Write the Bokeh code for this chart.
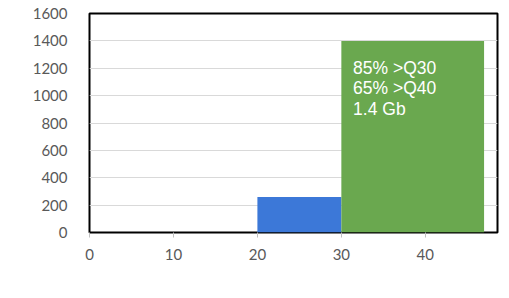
from bokeh.plotting import figure
from bokeh.embed import file_html
from bokeh.resources import INLINE
from bokeh.models import Range1d, FixedTicker
from bokeh.core.properties import value

# data
bin_left = [20, 30]
bin_right = [30, 47]
counts = [260, 1400]
colors = ["#3c78d8", "#6aa84f"]
annot_lines = ["85% >Q30", "65% >Q40", "1.4 Gb"]
annot_x = [31.4, 31.4, 31.4]
annot_y = [1278, 1127, 976]
y_ticks = [0, 200, 400, 600, 800, 1000, 1200, 1400, 1600]
x_ticks = [0, 10, 20, 30, 40]

p = figure(width=509, height=298, output_backend="svg", toolbar_location=None,
           x_range=Range1d(0, 48.6), y_range=Range1d(0, 1600),
           min_border_left=89, min_border_right=12, min_border_top=13, min_border_bottom=66)

p.quad(left=bin_left, right=bin_right, bottom=0, top=counts, fill_color=colors, line_color=None)

p.text(x=annot_x, y=annot_y, text=annot_lines, text_color="white",
       text_font=value("Liberation Sans"), text_font_size="17.5px", text_baseline="top")

p.outline_line_color = "black"
p.outline_line_width = 2
p.background_fill_color = "white"
p.border_fill_color = "white"

p.xgrid.grid_line_color = None
p.ygrid.grid_line_color = "#d9d9d9"
p.ygrid.ticker = FixedTicker(ticks=y_ticks)

p.yaxis.ticker = FixedTicker(ticks=y_ticks)
p.xaxis.ticker = FixedTicker(ticks=x_ticks)
for ax in (p.xaxis, p.yaxis):
    ax.axis_line_color = None
    ax.minor_tick_line_color = None
    ax.major_label_text_color = "#595959"
    ax.major_label_text_font = "Lato"
    ax.major_label_text_font_size = "15px"
p.yaxis.major_tick_line_color = None
p.yaxis.major_label_standoff = 16
p.xaxis.major_tick_line_color = "#bfbfbf"
p.xaxis.major_tick_out = 5
p.xaxis.major_tick_in = 0
p.xaxis.major_label_standoff = 11

open("out.html", "w").write(file_html(p, INLINE))
